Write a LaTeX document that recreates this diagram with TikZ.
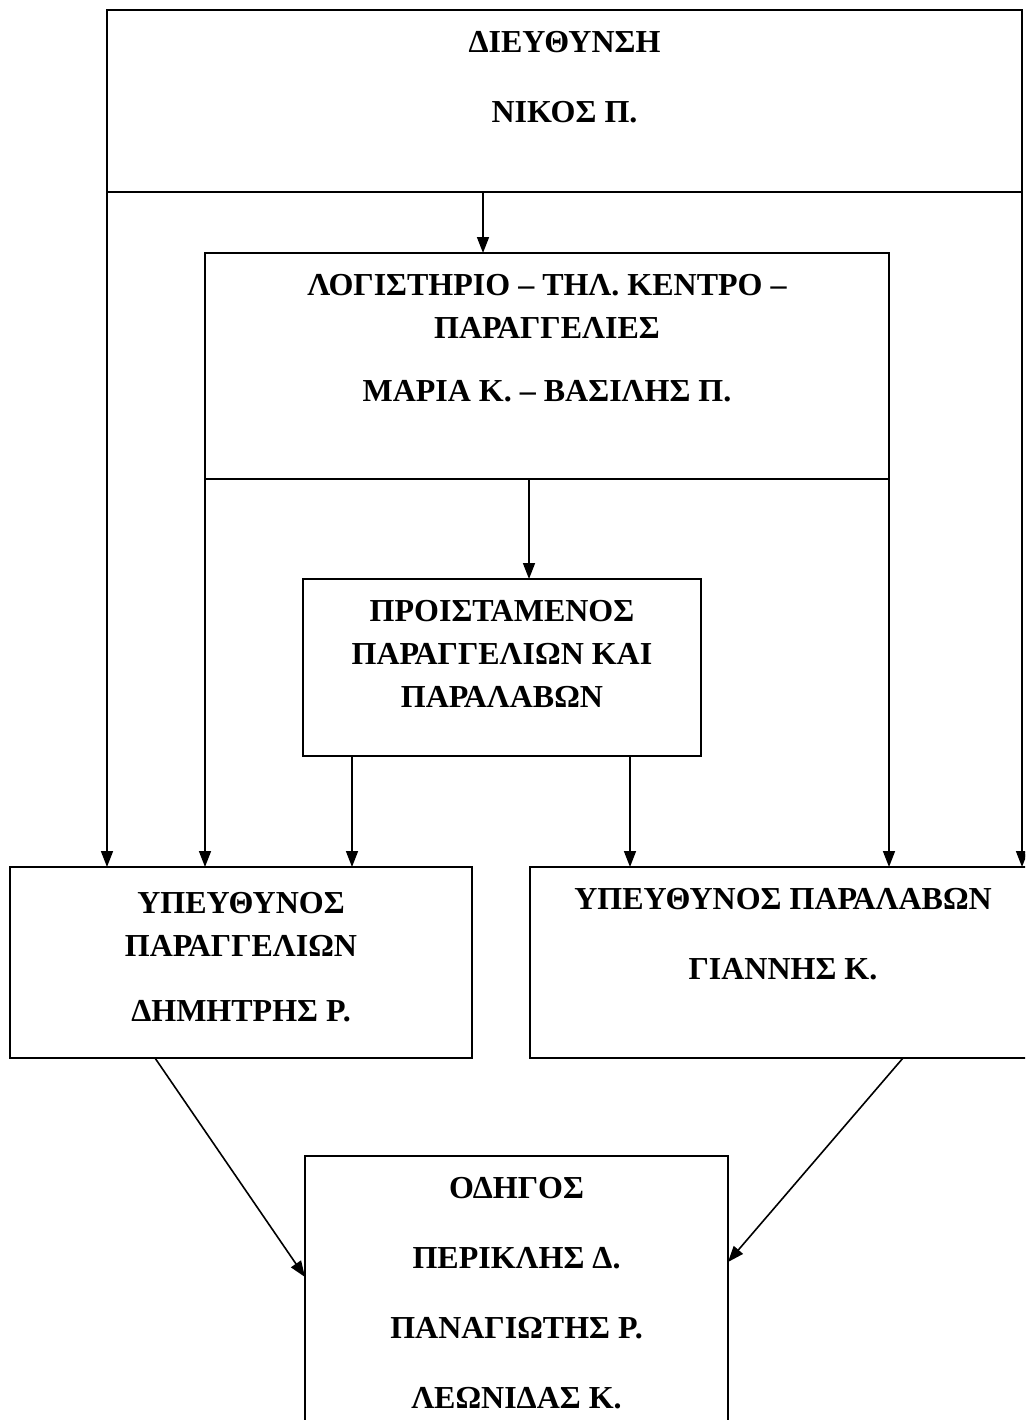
\documentclass[tikz,border=0pt]{standalone}
\usepackage{fontspec}
\setmainfont{Liberation Serif}
\usetikzlibrary{arrows.meta,positioning}

\tikzset{
    box/.style={draw, line width=1pt, inner sep=0pt, outer sep=0pt},
    boxtext/.style={anchor=north, inner sep=0pt, align=center,
        font=\bfseries\fontsize{16}{21.5}\selectfont, yshift=-10.25pt},
    arr/.style={-{Triangle[length=8pt,width=6pt]}, line width=0.8pt},
}

\begin{document}
\begin{tikzpicture}[x=0.5pt, y=-0.5pt]
    \useasboundingbox (0,0) rectangle (1025,1420);
    \clip (0,0) rectangle (1025,1420);

    % boxes
    \node[box, minimum width=457.5pt, minimum height=91pt] (dir) at (564.5,101) {};
    \node[box, minimum width=342pt, minimum height=113pt] (logist) at (547,366) {};
    \node[box, minimum width=199pt, minimum height=88.5pt] (proist) at (502,667.5) {};
    \node[box, minimum width=231pt, minimum height=95.5pt] (ypparag) at (241,962.5) {};
    \node[box, minimum width=253pt, minimum height=95.5pt] (yppar) at (783,962.5) {};
    \node[box, minimum width=211.5pt, minimum height=162pt] (odigos) at (516.5,1318) {};

    % texts
    \node[boxtext] (dir-t) at (dir.north) {ΔΙΕΥΘΥΝΣΗ\\[13.5pt] ΝΙΚΟΣ Π.};
    \node[boxtext] (logist-t) at (logist.north) {ΛΟΓΙΣΤΗΡΙΟ – ΤΗΛ. ΚΕΝΤΡΟ –\\ ΠΑΡΑΓΓΕΛΙΕΣ\\[10pt] ΜΑΡΙΑ Κ. – ΒΑΣΙΛΗΣ Π.};
    \node[boxtext] (proist-t) at (proist.north) {ΠΡΟΙΣΤΑΜΕΝΟΣ\\ ΠΑΡΑΓΓΕΛΙΩΝ ΚΑΙ\\ ΠΑΡΑΛΑΒΩΝ};
    \node[boxtext, yshift=-2pt] (ypparag-t) at (ypparag.north) {ΥΠΕΥΘΥΝΟΣ\\ ΠΑΡΑΓΓΕΛΙΩΝ\\[11pt] ΔΗΜΗΤΡΗΣ Ρ.};
    \node[boxtext] (yppar-t) at (yppar.north) {ΥΠΕΥΘΥΝΟΣ ΠΑΡΑΛΑΒΩΝ\\[13.5pt] ΓΙΑΝΝΗΣ Κ.};
    \node[boxtext] (odigos-t) at (odigos.north) {ΟΔΗΓΟΣ\\[13.5pt] ΠΕΡΙΚΛΗΣ Δ.\\[13.5pt] ΠΑΝΑΓΙΩΤΗΣ Ρ.\\[13.5pt] ΛΕΩΝΙΔΑΣ Κ.};

    % connectors
    \draw[arr] (dir.south -| 483,0) -- (logist.north -| 483,0);
    \draw[arr] (dir.south west) -- (dir.south west |- ypparag.north);
    \draw[arr] (dir.south east) -- (dir.south east |- yppar.north);
    \draw[arr] (logist.south west) -- (logist.south west |- ypparag.north);
    \draw[arr] (logist.south east) -- (logist.south east |- yppar.north);
    \draw[arr] (logist.south -| 529,0) -- (proist.north -| 529,0);
    \draw[arr] (proist.south -| 352,0) -- (ypparag.north -| 352,0);
    \draw[arr] (proist.south -| 630,0) -- (yppar.north -| 630,0);
    \draw[arr] (ypparag.south -| 155,0) -- (odigos.west |- 0,1277);
    \draw[arr] (yppar.south -| 903,0) -- (odigos.east |- 0,1262);
\end{tikzpicture}
\end{document}
